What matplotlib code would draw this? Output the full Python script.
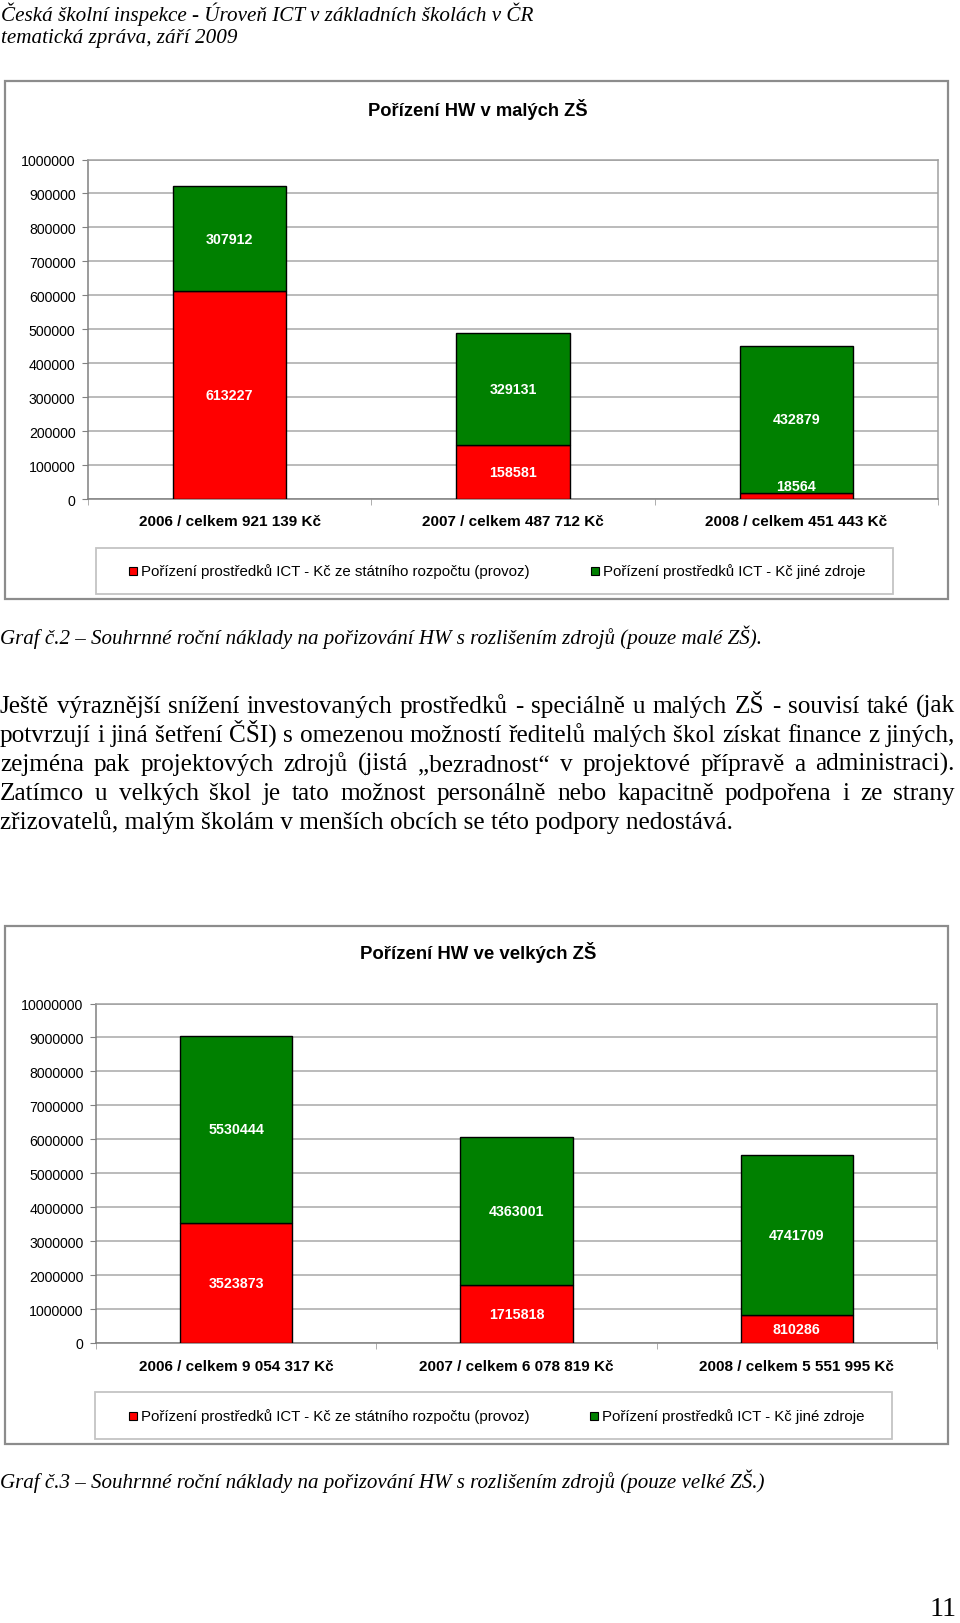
import matplotlib
matplotlib.use("Agg")
import matplotlib.pyplot as plt
from matplotlib.patches import Rectangle
import numpy as np

# Data
roky = ["2006", "2007", "2008"]
male_statni = [613227, 158581, 18564]
male_jine = [307912, 329131, 432879]
velke_statni = [3523873, 1715818, 810286]
velke_jine = [5530444, 4363001, 4741709]
male_popisky = ["2006 / celkem 921 139 Kč", "2007 / celkem 487 712 Kč", "2008 / celkem 451 443 Kč"]
velke_popisky = ["2006 / celkem 9 054 317 Kč", "2007 / celkem 6 078 819 Kč", "2008 / celkem 5 551 995 Kč"]
leg_statni = "Pořízení prostředků ICT - Kč ze státního rozpočtu (provoz)"
leg_jine = "Pořízení prostředků ICT - Kč jiné zdroje"

hlavicka = ["Česká školní inspekce - Úroveň ICT v základních školách v ČR",
            "tematická zpráva, září 2009"]
odstavec = [
    "Ještě výraznější snížení investovaných prostředků - speciálně u malých ZŠ - souvisí také (jak",
    "potvrzují i jiná šetření ČŠI) s omezenou možností ředitelů malých škol získat finance z jiných,",
    "zejména pak projektových zdrojů (jistá \u201ebezradnost\u201c v projektové přípravě a administraci).",
    "Zatímco u velkých škol je tato možnost personálně nebo kapacitně podpořena i ze strany",
    "zřizovatelů, malým školám v menších obcích se této podpory nedostává.",
]
popis2 = "Graf č.2 – Souhrnné roční náklady na pořizování HW s rozlišením zdrojů (pouze malé ZŠ)."
popis3 = "Graf č.3 – Souhrnné roční náklady na pořizování HW s rozlišením zdrojů (pouze velké ZŠ.)"

W, H = 960, 1624
CERVENA = "#ff0000"
ZELENA = "#008000"
SANS = ["Liberation Sans", "DejaVu Sans"]
SERIF = ["Liberation Serif", "DejaVu Serif"]

fig = plt.figure(figsize=(W / 100, H / 100), dpi=100)
fig.patch.set_facecolor("white")
# pozadi v pixelech
bg = fig.add_axes([0, 0, 1, 1], zorder=0)
bg.set_xlim(0, W)
bg.set_ylim(H, 0)
bg.axis("off")
rend = fig.canvas.get_renderer()


def sirka(t):
    return t.get_window_extent(rend).width


def fit(t, cil):
    # prizpusobeni velikosti pisma na cilovou sirku
    t.set_fontsize(t.get_fontsize() * cil / sirka(t))
    return t


def pax(x0, y0, x1, y1, z=2):
    return fig.add_axes([x0 / W, 1 - y1 / H, (x1 - x0) / W, (y1 - y0) / H], zorder=z)


def graf(rect, ramecek, titul, titul_x, titul_y, titul_w, statni, jine, popisky, pop_w, pop_y, ymax, leg):
    # vnejsi ramecek
    bg.add_patch(Rectangle((ramecek[0], ramecek[1]), ramecek[2] - ramecek[0], ramecek[3] - ramecek[1],
                           fill=False, edgecolor="#8c8c8c", lw=1.6))
    t = bg.text(titul_x, titul_y, titul, ha="center", va="center",
                fontfamily=SANS, fontweight="bold", fontsize=13)
    fit(t, titul_w)

    ax = pax(*rect)
    x = np.arange(len(statni))
    ax.bar(x, statni, width=0.4, color=CERVENA, edgecolor="black", lw=1, zorder=3)
    ax.bar(x, jine, width=0.4, bottom=statni, color=ZELENA, edgecolor="black", lw=1, zorder=3)
    ax.set_xlim(-0.5, len(statni) - 0.5)
    ax.set_ylim(0, ymax)
    ax.set_yticks(np.linspace(0, ymax, 11))
    ax.set_yticklabels([str(int(v)) for v in np.linspace(0, ymax, 11)], fontfamily=SANS, fontsize=10.2)
    ax.tick_params(axis="y", length=4, color="#808080", pad=5)
    ax.yaxis.grid(True, color="#a8a8a8", lw=1.1, zorder=0)
    ax.set_xticks(x)
    ax.set_xticklabels([])
    ax.set_xticks(np.arange(-0.5, len(statni)), minor=True)
    ax.tick_params(axis="x", which="major", length=0)
    ax.tick_params(axis="x", which="minor", length=4, color="#a0a0a0")
    for s in ax.spines.values():
        s.set_color("#a0a0a0")
        s.set_linewidth(1.1)
    ax.spines["left"].set_color("#808080")
    ax.spines["bottom"].set_color("#808080")

    # popisky hodnot
    px_na_jed = (rect[3] - rect[1]) / ymax
    for i in range(len(statni)):
        if statni[i] * px_na_jed < 16:
            ax.text(i, statni[i], str(statni[i]), ha="center", va="bottom", color="white",
                    fontfamily=SANS, fontweight="bold", fontsize=10.3, zorder=5)
        else:
            ax.text(i, statni[i] / 2, str(statni[i]), ha="center", va="center", color="white",
                    fontfamily=SANS, fontweight="bold", fontsize=10.3, zorder=5)
        ax.text(i, statni[i] + jine[i] / 2, str(jine[i]), ha="center", va="center", color="white",
                fontfamily=SANS, fontweight="bold", fontsize=10.3, zorder=5)

    # popisky kategorii
    sir_kat = (rect[2] - rect[0]) / len(popisky)
    for i, p in enumerate(popisky):
        t = bg.text(rect[0] + sir_kat * (i + 0.5), pop_y, p, ha="center", va="center",
                    fontfamily=SANS, fontweight="bold", fontsize=10)
        fit(t, pop_w)

    # legenda
    lx0, ly0, lx1, ly1, tx1, tx2 = leg
    bg.add_patch(Rectangle((lx0, ly0), lx1 - lx0, ly1 - ly0, fill=False, edgecolor="#c4c4c4", lw=1.3))
    ly = (ly0 + ly1) / 2
    for tx, barva, txt, cil in [(tx1, CERVENA, leg_statni, 389), (tx2, ZELENA, leg_jine, 264)]:
        bg.add_patch(Rectangle((tx - 12, ly - 4), 8, 8, facecolor=barva, edgecolor="black", lw=0.8))
        t = bg.text(tx, ly, txt, ha="left", va="center", fontfamily=SANS, fontsize=10)
        fit(t, cil)


# hlavicka
t1 = bg.text(1, 14, hlavicka[0], ha="left", va="center", fontfamily=SERIF, fontstyle="italic", fontsize=13)
fit(t1, 530)
bg.text(1, 38, hlavicka[1], ha="left", va="center", fontfamily=SERIF, fontstyle="italic",
        fontsize=t1.get_fontsize())

graf((88, 160.5, 938, 500), (5, 82, 948, 600), "Pořízení HW v malých ZŠ", 477.5, 109, 219,
     male_statni, male_jine, male_popisky, 182, 522, 1000000,
     (96, 549, 893, 595, 141, 603))

graf((96, 1004.5, 937, 1344), (5, 927, 948, 1445), "Pořízení HW ve velkých ZŠ", 478, 953, 236,
     velke_statni, velke_jine, velke_popisky, 194, 1367, 10000000,
     (95, 1393, 892, 1440, 141, 602))

# popisky grafu
t = bg.text(0, 637, popis2, ha="left", va="center", fontfamily=SERIF, fontstyle="italic", fontsize=14)
fit(t, 766)
t = bg.text(0, 1481, popis3, ha="left", va="center", fontfamily=SERIF, fontstyle="italic", fontsize=14)
fit(t, 768)

# odstavec do bloku (slova na spolecne uctari)
t = bg.text(0, 829, odstavec[-1], ha="left", va="baseline", fontfamily=SERIF, fontsize=16)
fit(t, 734)
vel = t.get_fontsize()
radky_y = [713, 742, 771, 800]
for y, radek in zip(radky_y, odstavec[:-1]):
    slova = radek.split(" ")
    objekty = [bg.text(0, y, s, ha="left", va="baseline", fontfamily=SERIF, fontsize=vel) for s in slova]
    sirky = [sirka(o) for o in objekty]
    mezera = (955 - sum(sirky)) / (len(slova) - 1)
    x = 0
    for o, s in zip(objekty, sirky):
        o.set_x(x)
        x += s + mezera

# cislo strany
t = bg.text(956, 1610, "11", ha="right", va="center", fontfamily=SERIF, fontsize=16)
fit(t, 27)

fig.savefig("out.png", dpi=100, facecolor="white")
